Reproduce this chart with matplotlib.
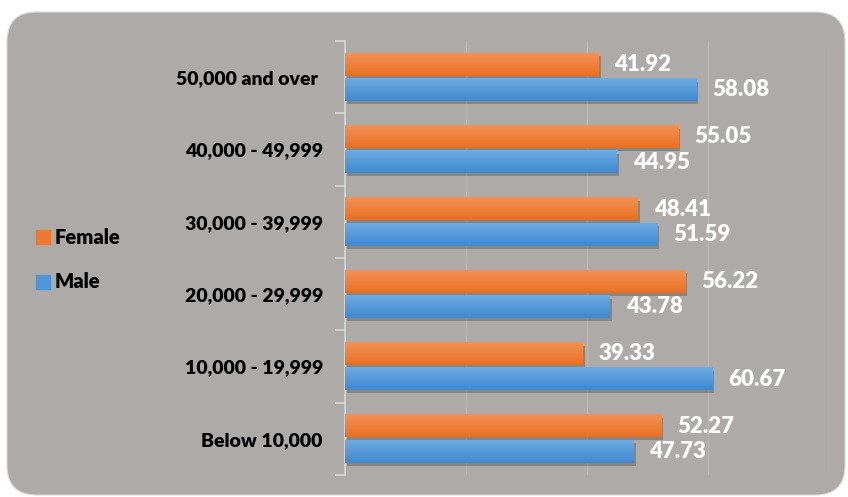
import numpy as np
import matplotlib
matplotlib.use("Agg")
import matplotlib.pyplot as plt
from matplotlib.patches import FancyBboxPatch, Rectangle
from matplotlib.colors import LinearSegmentedColormap
from matplotlib import transforms

# income bands, bottom to top
categories = ["Below 10,000", "10,000 - 19,999", "20,000 - 29,999",
              "30,000 - 39,999", "40,000 - 49,999", "50,000 and over "]
female = [52.27, 39.33, 56.22, 48.41, 55.05, 41.92]
male = [47.73, 60.67, 43.78, 51.59, 44.95, 58.08]

bg = "#aeaaa7"
orange_top, orange_bot = "#f39158", "#ea7020"
blue_top, blue_bot = "#6eaae2", "#3f89d0"

plt.rcParams['font.family'] = ['Lato', 'DejaVu Sans']

fig = plt.figure(figsize=(8.48, 4.97), dpi=100)
fig.patch.set_facecolor("white")

# rounded grey panel behind everything
panel = FancyBboxPatch((7 / 848, 2 / 497), 838 / 848, 483 / 497,
                       boxstyle="round,pad=0,rounding_size=0.035",
                       transform=fig.transFigure, facecolor=bg,
                       edgecolor="#d9d9d9", linewidth=0.8, zorder=-5,
                       mutation_aspect=848 / 497)
fig.patches.append(panel)

ax = fig.add_axes([345 / 848, 22 / 497, 484 / 848, 434 / 497])
ax.set_facecolor("none")

y = np.arange(len(categories))
h = 0.31
off = 0.175

shadow = transforms.offset_copy(ax.transData, fig=fig, x=2, y=-3, units="dots")


def grad_bars(ypos, vals, top, bot, z):
    cmap = LinearSegmentedColormap.from_list("g", [bot, top])
    bars = ax.barh(ypos, vals, height=h, color=bot, zorder=z)
    ax.barh(ypos, vals, height=h, color="black", alpha=0.22, zorder=z - 1,
            transform=shadow)
    grad = np.linspace(0, 1, 64).reshape(-1, 1)
    for b in bars:
        x0, y0 = b.get_x(), b.get_y()
        ax.imshow(grad, extent=[x0, x0 + b.get_width(), y0, y0 + b.get_height()],
                  origin="lower", aspect="auto", cmap=cmap, zorder=z + 0.5)
    return bars


grad_bars(y + off, female, orange_top, orange_bot, 3)
grad_bars(y - off, male, blue_top, blue_bot, 3)

for yi, f, m in zip(y, female, male):
    ax.text(f + 2.6, yi + off, f"{f:.2f}", color="white", fontsize=16,
            fontweight="heavy", va="center", ha="left", zorder=6)
    ax.text(m + 2.6, yi - off, f"{m:.2f}", color="white", fontsize=16,
            fontweight="heavy", va="center", ha="left", zorder=6)

ax.set_xlim(0, 80)
ax.set_ylim(-0.5, len(categories) - 0.5)
ax.set_xticks([20, 40, 60, 80])
ax.set_xticklabels([])
ax.tick_params(axis="x", length=0)
ax.grid(axis="x", color="#bcb8b5", linewidth=1, zorder=1)

ax.set_yticks(y)
ax.set_yticklabels(categories, fontsize=14, fontweight="heavy", color="black")
ax.set_yticks(np.arange(-0.5, len(categories)), minor=True)
ax.tick_params(axis="y", which="major", length=0, pad=16)
ax.tick_params(axis="y", which="minor", length=7, color="#d8d8d8", width=1.2)

for s in ["top", "right", "bottom"]:
    ax.spines[s].set_visible(False)
ax.spines["left"].set_color("#d8d8d8")
ax.spines["left"].set_linewidth(1.2)

# legend drawn as squares + labels on the panel
for (label, col), ly in zip([("Female", "#ed7a30"), ("Male", "#4f95d8")],
                            [237, 282]):
    fig.patches.append(Rectangle((36 / 848, 1 - (ly + 7) / 497), 14 / 848, 14 / 497,
                                 transform=fig.transFigure, color=col, zorder=2))
    fig.text(55 / 848, 1 - ly / 497, label, fontsize=14.5, fontweight="heavy",
             va="center", ha="left", color="black")

fig.savefig("out.png", dpi=100, facecolor="white")
